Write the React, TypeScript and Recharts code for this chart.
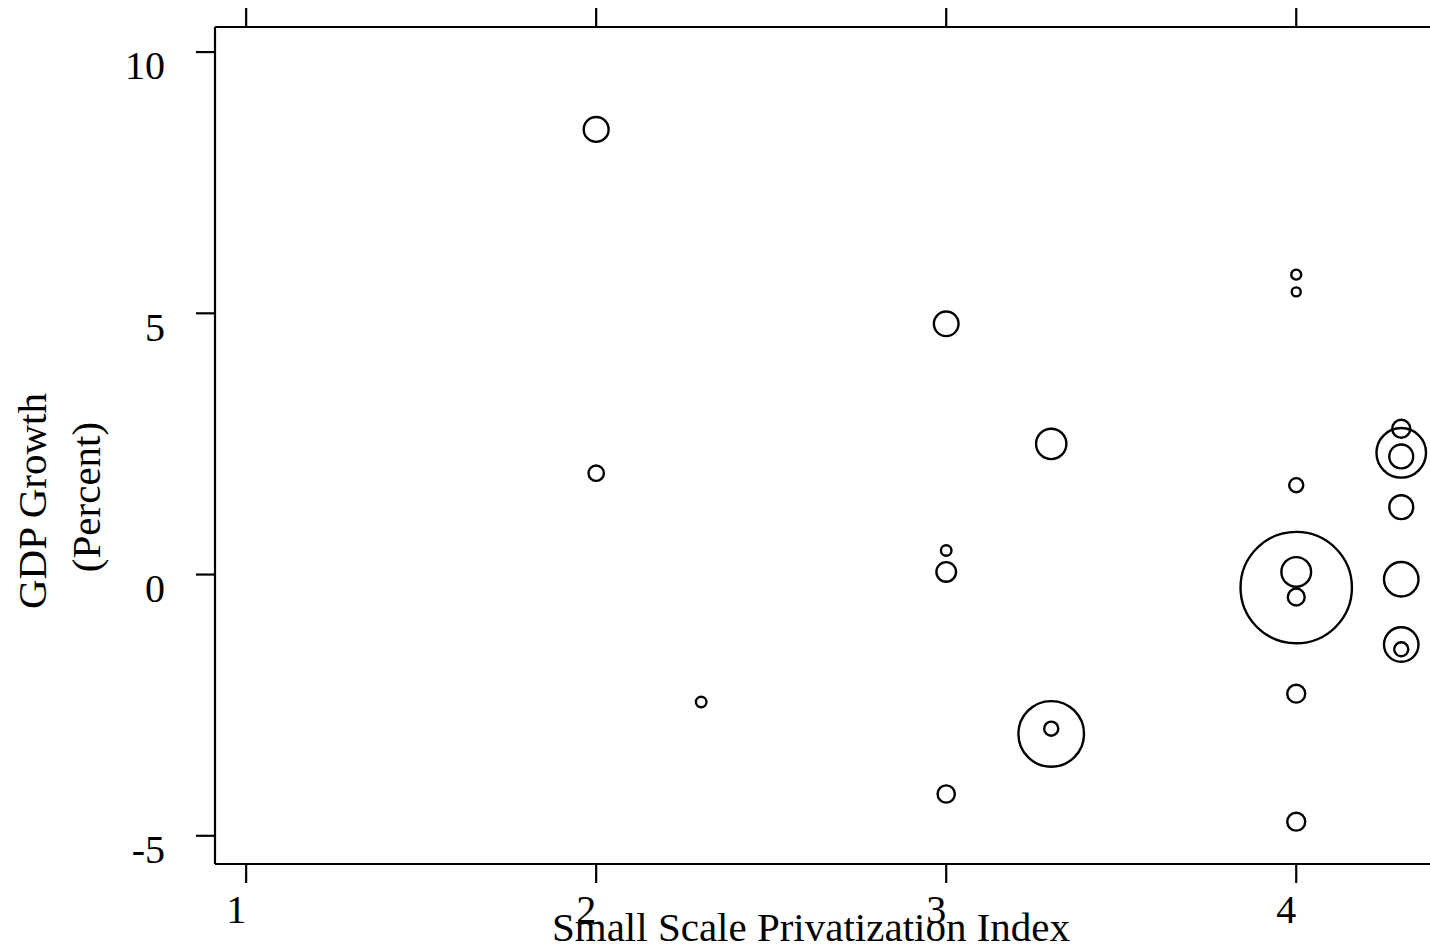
import { ScatterChart, Scatter, XAxis, YAxis, ZAxis } from 'recharts';

// small scale privatization index, gdp growth (%), bubble weight
const privatization = [2, 2, 2.3, 3, 3, 3, 3, 3.3, 3.3, 3.3, 4, 4, 4, 4, 4, 4, 4, 4, 4.3, 4.3, 4.3, 4.3, 4.3, 4.3, 4.3];
const gdpGrowth = [8.52, 1.94, -2.44, 4.8, 0.46, 0.05, -4.2, 2.5, -3.05, -2.95, 5.74, 5.41, 1.71, -0.25, 0.05, -0.43, -2.28, -4.73, 2.79, 2.33, 2.26, 1.29, -0.09, -1.34, -1.43];
const weight = [5.0, 1.9, 0.9, 4.9, 0.9, 3.1, 2.4, 7.4, 34.7, 1.6, 0.8, 0.65, 1.6, 100, 7.1, 2.3, 2.6, 2.6, 2.6, 19.8, 4.6, 4.6, 9.6, 9.6, 1.6];

const xTicks = [1, 2, 3, 4];
const yTicks = [-5, 0, 5, 10];

const points = privatization.map((x, i) => ({ x, y: gdpGrowth[i], z: weight[i] }));

const FONT = '"Liberation Serif", "Times New Roman", serif';
const FS = 40;

function XTick(props: any) {
  const { x, y, payload } = props;
  return (
    <text x={x - 10} y={y} dy="0.71em" textAnchor="middle" fontFamily={FONT} fontSize={FS} fill="#000">
      {payload.value}
    </text>
  );
}

function YTick(props: any) {
  const { x, y, payload } = props;
  return (
    <text x={x} y={y} dy="0.68em" textAnchor="end" fontFamily={FONT} fontSize={FS} fill="#000">
      {payload.value}
    </text>
  );
}

const XTitle = () => (
  <text x={811} y={941} textAnchor="middle" fontFamily={FONT} fontSize={41} fill="#000">
    Small Scale Privatization Index
  </text>
);

const YTitle = () => (
  <g fontFamily={FONT} fontSize={41} fill="#000">
    <text x={46} y={501} textAnchor="middle" transform="rotate(-90, 46, 501)">GDP Growth</text>
    <text x={100} y={497} textAnchor="middle" transform="rotate(-90, 100, 497)">(Percent)</text>
  </g>
);

export default function App() {
  const xDomain = [0.911, 4.525];
  const axisStroke = { stroke: '#000', strokeWidth: 2.2 };
  return (
    <div style={{ position: 'absolute', left: 0, top: 0, width: 1430, height: 948, overflow: 'hidden', background: '#fff' }}>
      <ScatterChart width={1480} height={948} margin={{ top: 0, right: 0, bottom: 0, left: 0 }}>
        <XAxis
          xAxisId="bottom"
          type="number"
          dataKey="x"
          domain={xDomain}
          ticks={xTicks}
          allowDataOverflow
          height={84}
          tickSize={19}
          tickMargin={12}
          axisLine={axisStroke}
          tickLine={axisStroke}
          tick={<XTick />}
          label={{ content: <XTitle /> }}
        />
        <XAxis
          xAxisId="top"
          orientation="top"
          type="number"
          dataKey="x"
          domain={xDomain}
          ticks={xTicks}
          allowDataOverflow
          height={27}
          tickSize={19}
          axisLine={axisStroke}
          tickLine={axisStroke}
          tickFormatter={() => ''}
        />
        <YAxis
          type="number"
          dataKey="y"
          domain={[-5.54, 10.48]}
          ticks={yTicks}
          allowDataOverflow
          width={215}
          tickSize={19}
          tickMargin={31}
          axisLine={axisStroke}
          tickLine={axisStroke}
          tick={<YTick />}
          label={{ content: <YTitle /> }}
        />
        <ZAxis type="number" dataKey="z" domain={[0, 100]} range={[0, Math.PI * 55.7 * 55.7]} />
        <Scatter
          data={points}
          xAxisId="bottom"
          fill="none"
          stroke="#000"
          strokeWidth={2.4}
          isAnimationActive={false}
        />
        <Scatter data={points} xAxisId="top" fill="none" stroke="none" isAnimationActive={false} />
      </ScatterChart>
    </div>
  );
}
